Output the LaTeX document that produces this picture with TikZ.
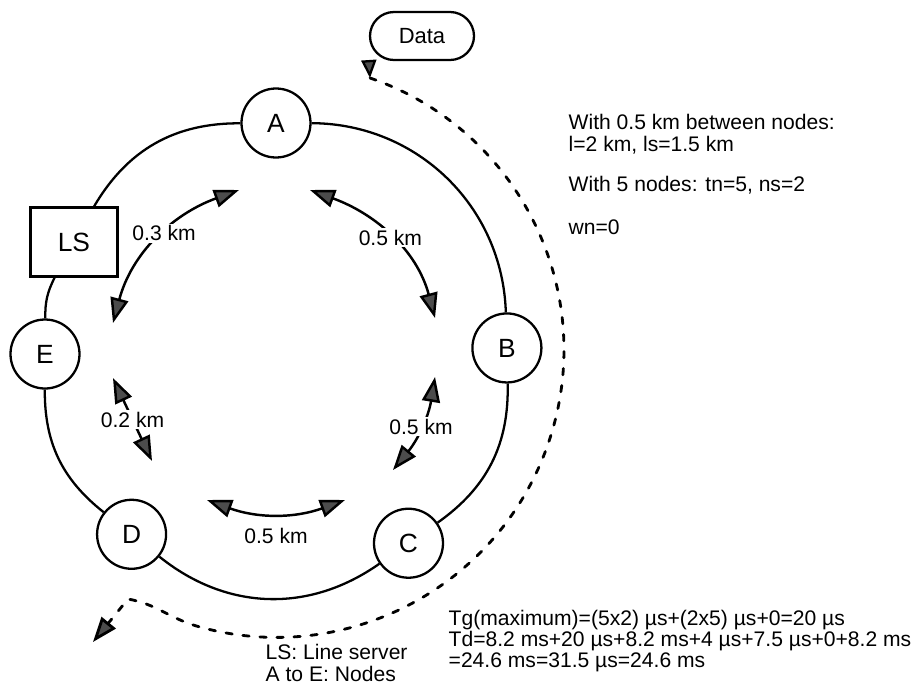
\documentclass[tikz,border=0pt]{standalone}
\usepackage{fontspec}
\setmainfont{Liberation Sans}
\usetikzlibrary{arrows.meta,positioning,calc}

\begin{document}
\begin{tikzpicture}[>={Triangle[length=0.5cm,width=0.36cm,fill=black!70]},thick,x=1cm,y=1cm,
  stn/.style={draw,circle,fill=white,line width=1.3pt,minimum size=1.38cm,inner sep=0pt,font=\fontsize{15}{18}\selectfont},
  ring/.style={line width=1.3pt},
  dist/.style={<->,line width=1.4pt},
  lab/.style={font=\fontsize{12}{14}\selectfont},
  km/.style={lab,fill=white,inner sep=1pt},
  note/.style={align=left,anchor=west,inner sep=0pt},
  flow/.style={line width=1.6pt,dash pattern=on 3.6pt off 6.1pt,line cap=round}]
\useasboundingbox (-5.52,-6.68) rectangle (12.82,7.08);
\node[stn] (A) at (90:4.62) {A};
\node[stn] (B) at (1.5:4.62) {B};
\node[stn] (C) at (-55:4.62) {C};
\node[stn] (D) at (-128.7:4.62) {D};
\node[stn] (E) at (180:4.62) {E};
\node[draw,fill=white,line width=1.3pt,minimum width=1.74cm,minimum height=1.38cm,font=\fontsize{15}{18}\selectfont] (LS) at (151:4.62) {LS};
\draw[ring] (A) to[bend left=44] (B);
\draw[ring] (B) to[bend left=28] (C);
\draw[ring] (C) to[bend left=37] (D);
\draw[ring] (D) to[bend left=26] (E);
\draw[ring] (E) to[bend left=14] (LS);
\draw[ring] (LS) to[bend left=30] (A);

\coordinate (a1) at (-0.74,3.28);
\coordinate (e1) at (-3.26,0.62);
\coordinate (a2) at (0.68,3.28);
\coordinate (b1) at (3.18,0.72);
\coordinate (b2) at (3.18,-0.46);
\coordinate (c1) at (2.34,-2.32);
\coordinate (c2) at (1.38,-2.92);
\coordinate (d1) at (-1.38,-2.92);
\coordinate (d2) at (-2.48,-2.14);
\coordinate (e2) at (-3.26,-0.48);
\draw[dist] (e1) to[out=75,in=200] node[km,pos=0.55] {0.3 km} (a1);
\draw[dist] (a2) to[out=-20,in=105] node[km] {0.5 km} (b1);
\draw[dist] (c1) to[bend right=15] node[km] {0.5 km} (b2);
\draw[dist] (d1) to[bend right=20] node[lab,below=4pt] {0.5 km} (c2);
\draw[dist] (e2) -- node[km] {0.2 km} (d2);

\node[draw,rounded corners=0.48cm,line width=1.3pt,minimum width=2.08cm,minimum height=0.96cm,font=\fontsize{12.5}{15}\selectfont] (data) at (2.92,6.36) {Data};
\coordinate (dtip) at (1.88,5.52);
\coordinate (kink) at (-2.96,-4.9);
\coordinate (exit) at (-3.66,-5.76);
\draw[line width=1.3pt,-{Triangle[length=0.36cm,width=0.3cm,fill=black!70]}] (data.205) -- (dtip);
\draw[flow,-{Triangle[length=0.5cm,width=0.36cm,fill=black!70]}] (dtip) arc[start angle=71,end angle=-106,radius=5.75] to[out=164,in=-10] (kink) -- (exit);

\node[note,font=\fontsize{12}{12.5}\selectfont] (span) at (5.84,4.40) {With 0.5 km between nodes:\\ l=2 km, ls=1.5 km};
\node[note,font=\fontsize{12}{12.5}\selectfont] (count) at (5.84,3.38) {With 5 nodes: tn=5, ns=2};
\node[note,font=\fontsize{12}{12.5}\selectfont] (wait) at (5.84,2.54) {wn=0};
\node[note,font=\fontsize{12}{12}\selectfont] (delay) at (3.44,-5.74) {Tg(maximum)=(5x2) µs+(2x5) µs+0=20 µs\\ Td=8.2 ms+20 µs+8.2 ms+4 µs+7.5 µs+0+8.2 ms\\ =24.6 ms=31.5 µs=24.6 ms};
\node[note,font=\fontsize{12}{12.5}\selectfont] (key) at (-0.22,-6.18) {LS: Line server\\ A to E: Nodes};
\end{tikzpicture}
\end{document}
